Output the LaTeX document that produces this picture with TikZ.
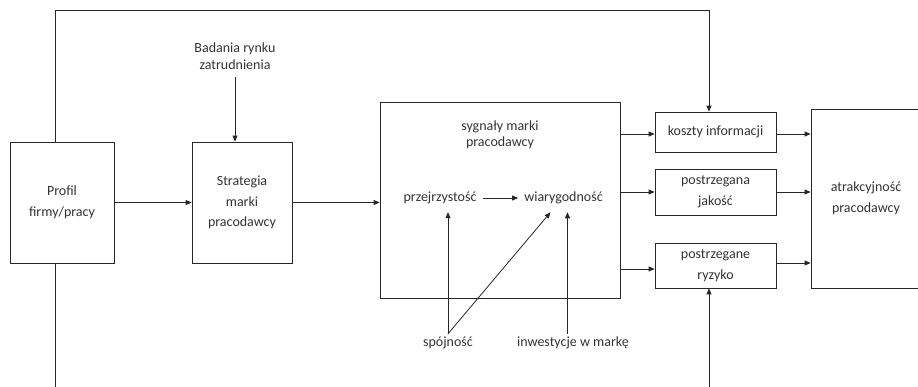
\documentclass[tikz,border=0pt]{standalone}
\usepackage{fontspec}
\setmainfont{Carlito}
\usetikzlibrary{arrows.meta}

\tikzset{
  box/.style={draw=black!85, line width=0.8pt, text=black!80, align=center, inner sep=2pt},
  txt/.style={text=black!80, align=center, inner sep=3pt},
  inner/.style={text=black!80, inner xsep=6pt, inner ysep=8pt},
  arr/.style={draw=black!85, line width=0.8pt, -{Triangle[length=6pt,width=5pt]}},
  ln/.style={draw=black!85, line width=0.8pt}
}

\begin{document}
\begin{tikzpicture}[x=1pt, y=-1pt, font=\fontsize{14pt}{20.5pt}\selectfont]
    \useasboundingbox (0,0) rectangle (918,386);

    % Boxes
    \node[box, minimum width=104pt, minimum height=121pt] (profil) at (62,202.5) {Profil\\firmy/pracy};
    \node[box, minimum width=100pt, minimum height=121pt] (strategia) at (242,202.5) {Strategia\\marki\\pracodawcy};
    \node[box, minimum width=240pt, minimum height=196pt] (sygnaly) at (500,200) {};
    \node[box, minimum width=121pt, minimum height=40pt] (koszty) at (715.5,132) {koszty informacji};
    \node[box, minimum width=121pt, minimum height=46pt] (jakosc) at (715.5,192) {postrzegana\\jako\'s\'c};
    \node[box, minimum width=121pt, minimum height=45pt] (ryzyko) at (715.5,265.5) {postrzegane\\ryzyko};
    \node[box, minimum width=110pt, minimum height=179pt] (atrakcyjnosc) at (866,198.5) {atrakcyjno\'s\'c\\pracodawcy};

    % Texts
    \node[txt, font=\fontsize{14pt}{16.5pt}\selectfont] (badania) at (235,56) {Badania rynku\\zatrudnienia};
    \node[txt, font=\fontsize{14pt}{16.5pt}\selectfont] (sygnalyT) at (500,135) {sygna\l{}y marki\\pracodawcy};
    \node[inner] (przej) at (440,198) {przejrzysto\'s\'c};
    \node[inner] (wiar) at (563.5,198) {wiarygodno\'s\'c};
    \node[txt] (spojnosc) at (448,343) {sp\'ojno\'s\'c};
    \node[txt] (inwest) at (573,343) {inwestycje w mark\k{e}};

    % Loop lines
    \coordinate (loopL) at (55,10.5);
    \coordinate (loopR) at (709,10.5);
    \coordinate (botL) at (55,390);
    \coordinate (botR) at (709,390);
    \draw[arr] (profil.north -| loopL) -- (loopL) -- (loopR) -- (koszty.north -| loopR);
    \draw[ln] (profil.south -| botL) -- (botL);
    \draw[arr] (botR) -- (ryzyko.south -| botR);

    % Arrows
    \draw[arr] (badania.south |- 0,77) -- (strategia.north -| badania.south);
    \draw[arr] (profil.east) -- (strategia.west);
    \draw[arr] (strategia.east) -- (strategia.east -| sygnaly.west);
    \draw[arr] (sygnaly.east |- 0,134) -- (koszty.west |- 0,134);
    \draw[arr] (sygnaly.east |- jakosc.west) -- (jakosc.west);
    \draw[arr] (sygnaly.east |- 0,269) -- (ryzyko.west |- 0,269);
    \draw[arr] (koszty.east |- 0,134) -- (atrakcyjnosc.west |- 0,134);
    \draw[arr] (jakosc.east) -- (atrakcyjnosc.west |- jakosc.east);
    \draw[arr] (ryzyko.east |- 0,263) -- (atrakcyjnosc.west |- 0,263);

    % Inside the signal box
    \coordinate (wiarDiag) at ([xshift=-13pt]wiar.south);
    \coordinate (wiarIn) at ([xshift=4pt]wiar.south);
    \draw[arr] (przej.east) -- (wiar.west);
    \draw[arr] (spojnosc.north) -- (spojnosc.north |- przej.south);
    \draw[arr] (spojnosc.north) -- (wiarDiag);
    \draw[arr] (wiarIn |- inwest.north) -- (wiarIn);
\end{tikzpicture}
\end{document}
